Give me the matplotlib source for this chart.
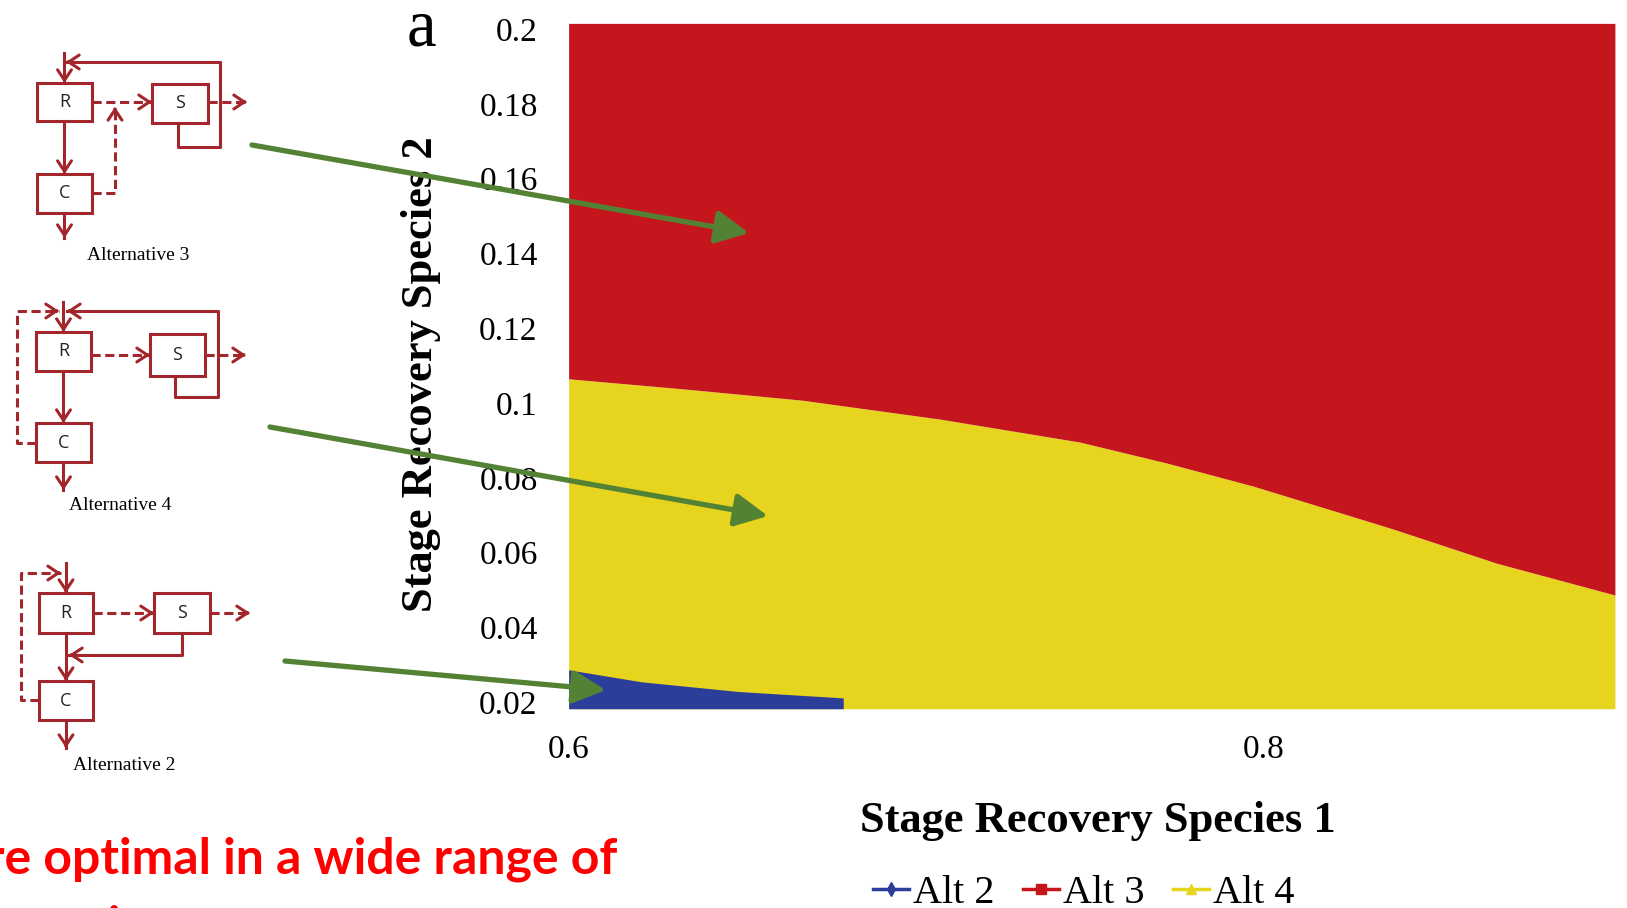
import numpy as np
import matplotlib.pyplot as plt
from matplotlib.lines import Line2D

W, H = 1627, 908

# boundary between Alt 3 (above) and Alt 4 (below)
species1 = [0.600, 0.633, 0.667, 0.707, 0.747, 0.772, 0.797, 0.837, 0.867, 0.901]
boundary_alt3 = [0.1065, 0.1038, 0.1008, 0.0957, 0.0896, 0.0840, 0.0778, 0.0664, 0.0572, 0.0487]

# small Alt 2 patch in the lower left corner
species1_alt2 = [0.600, 0.621, 0.649, 0.679]
top_alt2 = [0.0287, 0.0255, 0.0229, 0.0212]

y_floor = 0.0183
y_ceiling = 0.2015

yticks = [0.2, 0.18, 0.16, 0.14, 0.12, 0.1, 0.08, 0.06, 0.04, 0.02]
ytick_labels = ["0.2", "0.18", "0.16", "0.14", "0.12", "0.1", "0.08", "0.06", "0.04", "0.02"]
xticks = [0.6, 0.8]
xtick_labels = ["0.6", "0.8"]

alt_labels = ["Alt 2", "Alt 3", "Alt 4"]
alt_colors = ["#2b3f9a", "#c4161c", "#e6d41e"]
alt_markers = ["d", "s", "^"]

SERIF = "Liberation Serif"
DR = "#a3262c"      # diagram colour
GREEN = "#548235"

fig = plt.figure(figsize=(W / 100, H / 100), dpi=100)

# ---- main chart
ax = fig.add_axes([565.5 / W, (H - 711) / H, 1051.5 / W, 688 / H])
ax.fill_between(species1, y_floor, boundary_alt3, color=alt_colors[2], lw=0)
ax.fill_between(species1, boundary_alt3, y_ceiling, color=alt_colors[1], lw=0)
ax.fill_between(species1_alt2, y_floor, top_alt2, color=alt_colors[0], lw=0)

ax.set_xlim(0.5991, 0.9016)
ax.set_ylim(0.0177, 0.2016)
ax.set_xticks(xticks, xtick_labels)
ax.set_yticks(yticks, ytick_labels)
ax.tick_params(length=0, labelsize=24)
ax.tick_params(axis="y", pad=20)
ax.tick_params(axis="x", pad=17)
for lab in ax.get_xticklabels() + ax.get_yticklabels():
    lab.set_family(SERIF)
for s in ax.spines.values():
    s.set_visible(False)

ax.set_ylabel("Stage Recovery Species 2", family=SERIF, fontsize=32, fontweight="bold")
ax.yaxis.set_label_coords((441 - 565.5) / 1051.5, (711 - 374) / 688)
ax.set_xlabel("Stage Recovery Species 1", family=SERIF, fontsize=32, fontweight="bold")
ax.xaxis.set_label_coords((1098 - 565.5) / 1051.5, (711 - 801) / 688)

handles = [Line2D([], [], color=c, marker=m, markersize=7, lw=2.5)
           for c, m in zip(alt_colors, alt_markers)]
fig.legend(handles, alt_labels, loc="center", bbox_to_anchor=(1084 / W, 1 - 893 / H),
           ncol=3, frameon=False, prop={"family": SERIF, "size": 29},
           handlelength=0.9, handletextpad=0.1, columnspacing=0.7)

fig.text(421 / W, 1 - 46 / H, "a", family=SERIF, fontsize=48, ha="center", va="baseline")

# ---- overlay in pixel coordinates for the diagrams and arrows
ov = fig.add_axes([0, 0, 1, 1])
ov.set_xlim(0, W)
ov.set_ylim(H, 0)
ov.axis("off")
ov.patch.set_alpha(0)


def box(x0, y0, x1, y1, label):
    ov.add_patch(plt.Rectangle((x0, y0), x1 - x0, y1 - y0, fill=False, ec=DR, lw=2.2))
    ov.text((x0 + x1) / 2, (y0 + y1) / 2, label, ha="center", va="center",
            fontsize=13, family="Open Sans", color="#222222")


def path(xs, ys, dashed=False):
    ls = (0, (3, 1.5)) if dashed else "-"
    ov.plot(xs, ys, color=DR, lw=2.2, ls=ls)
    dx, dy = xs[-1] - xs[-2], ys[-1] - ys[-2]
    n = np.hypot(dx, dy)
    ov.annotate("", xy=(xs[-1], ys[-1]), xytext=(xs[-1] - 3 * dx / n, ys[-1] - 3 * dy / n),
                arrowprops=dict(arrowstyle="->,head_length=0.75,head_width=0.5",
                                color=DR, lw=2.2, shrinkA=0, shrinkB=0))


# Alternative 3
box(37, 83, 92, 121, "R")
box(152, 84, 208, 123, "S")
box(37, 174, 92, 213, "C")
path([64.5, 64.5], [53, 83])
path([178, 178, 220, 220, 66], [123, 147, 147, 62, 62])
path([64.5, 64.5], [121, 174])
path([64.5, 64.5], [213, 238])
path([92, 152], [102, 102], dashed=True)
path([208, 247], [102, 102], dashed=True)
path([92, 115, 115], [193, 193, 107], dashed=True)
ov.text(138, 255, "Alternative 3", family=SERIF, fontsize=14, ha="center", va="center")

# Alternative 4
box(36, 332, 91, 371, "R")
box(150, 334, 205, 376, "S")
box(36, 423, 91, 462, "C")
path([63.5, 63.5], [302, 332])
path([175, 175, 218, 218, 67], [376, 397, 397, 311, 311])
path([63.5, 63.5], [371, 423])
path([63.5, 63.5], [462, 490])
path([91, 150], [355, 355], dashed=True)
path([205, 246], [355, 355], dashed=True)
path([36, 17, 17, 59], [443, 443, 311, 311], dashed=True)
ov.text(120, 506, "Alternative 4", family=SERIF, fontsize=14, ha="center", va="center")

# Alternative 2
box(39, 593, 93, 633, "R")
box(154, 593, 210, 633, "S")
box(39, 681, 93, 720, "C")
path([66, 66], [563, 593])
path([182, 182, 69], [633, 655, 655])
path([66, 66], [633, 681])
path([66, 66], [720, 748])
path([93, 154], [613, 613], dashed=True)
path([210, 250], [613, 613], dashed=True)
path([39, 21, 21, 61], [700, 700, 573, 573], dashed=True)
ov.text(124, 765, "Alternative 2", family=SERIF, fontsize=14, ha="center", va="center")

# green pointers from diagrams to regions
for (x0, y0), (x1, y1) in [((252, 145), (749, 233)),
                           ((270, 427), (768, 516)),
                           ((285, 661), (606, 690))]:
    ov.annotate("", xy=(x1, y1), xytext=(x0, y0),
                arrowprops=dict(arrowstyle="-|>,head_length=1.0,head_width=0.5",
                                mutation_scale=20, color=GREEN, lw=3.8,
                                shrinkA=0, shrinkB=0))

# cut-off slide caption
ov.text(617, 874, "re optimal in a wide range of", family="Lato", fontweight="bold",
        fontsize=36, color="#ff0000", ha="right", va="baseline")
ov.text(-36, 942, "scenarios", family="Lato", fontweight="bold",
        fontsize=36, color="#ff0000", ha="left", va="baseline")

fig.savefig("out.png", dpi=100)
